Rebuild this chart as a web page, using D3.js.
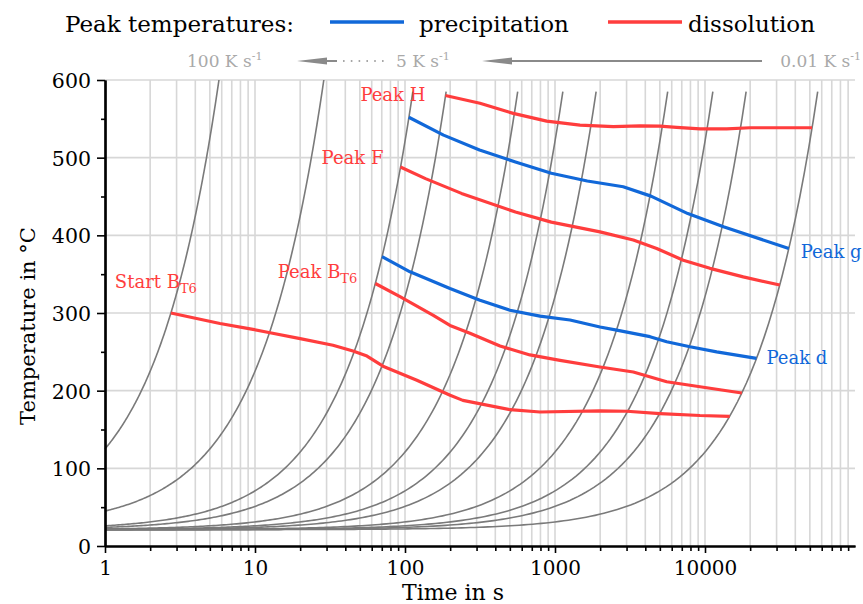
<!DOCTYPE html>
<html>
<head>
<meta charset="utf-8">
<script src="https://cdn.jsdelivr.net/npm/d3@7"></script>
<style>
  body { margin: 0; background: #fff; }
  svg { display: block; }
  text { font-family: "DejaVu Serif", serif; }
</style>
</head>
<body>
<svg id="chart" width="863" height="604"></svg>
<script>
// Constant-rate heating runs (K/s), their start temperature at t = 0 and final temperature (°C)
const heatingRates = [100, 20, 5, 3, 1, 0.5, 0.3, 0.1, 0.05, 0.03, 0.01];
const startTemps   = [25, 25, 21, 21, 21, 21, 21, 21, 21, 21, 21];
const endTemps     = [600, 600, 585, 585, 585, 585, 585, 585, 585, 585, 585];

// Axis ticks
const xTicks = [1, 10, 100, 1000, 10000];
const yTicks = [0, 100, 200, 300, 400, 500, 600];
const yMinorTicks = [50, 150, 250, 350, 450, 550];

// Peak temperature tracks: [time in s, temperature in °C]
const peakH = [[186, 580], [316, 570], [527, 557], [880, 547], [1468, 542], [2448, 540],
  [3690, 541], [5010, 540.5], [6470, 539], [9260, 537], [13950, 537], [19950, 538.5], [51700, 538.5]];
const peakF = [[93.2, 488], [137, 473], [238, 454], [545, 430], [945, 417], [1995, 404.5],
  [3327, 394], [4764, 383], [7166, 368], [10790, 357.5], [17990, 346.5], [31500, 336]];
const peakBT6 = [[63.4, 338], [92.6, 321], [154.5, 297], [199.5, 284], [271, 274], [430, 257.5],
  [681, 246], [1080, 239], [1995, 230.5], [3327, 224], [5555, 211.5], [9260, 205], [17600, 197]];
const startBT6 = [[2.75, 300], [5.84, 286.5], [9.7, 279], [12.6, 274.5], [20, 267], [33.1, 258.5],
  [45, 251], [55.8, 244.5], [71.3, 231.5], [120, 213.5], [200, 194], [243, 187.5], [501, 175.5],
  [794, 172.5], [1995, 174], [3020, 173.5], [5010, 170.5], [9260, 168], [14600, 167]];
const peakG = [[106, 552], [180.7, 529], [314, 510], [545, 494.5], [945, 480], [1641, 470],
  [2849, 462.5], [4365, 450.5], [7680, 428], [13280, 411], [36200, 383]];
const peakD = [[70.3, 372.5], [108, 353], [199.5, 331.5], [316, 316.5], [501, 303.5], [794, 296],
  [1259, 291], [1995, 282], [2578, 278], [4299, 269.5], [5555, 263], [7943, 256.5], [11960, 250],
  [22040, 241.5]];

const RED = "#ff3d3d", BLUE = "#1168d9", GRID = "#d7d7d7", CURVE = "#7a7a7a", NOTE = "#a9a9a9";

const svg = d3.select("#chart");
const x = d3.scaleLog().domain([1, 1e5]).range([105, 855]);
const y = d3.scaleLinear().domain([0, 600]).range([546, 80]);

// every 1..9 multiple of each decade, used for grid and minor ticks
const logTicks = [];
for (let e = 0; e < 5; e++) for (let m = 1; m <= 9; m++) logTicks.push(m * Math.pow(10, e));
const xMinorTicks = logTicks.filter(v => !xTicks.includes(v));

// grid
const grid = svg.append("g").attr("stroke", GRID).attr("stroke-width", 1.6);
grid.selectAll("line.v").data(logTicks.filter(v => v > 1)).join("line")
  .attr("x1", d => x(d)).attr("x2", d => x(d)).attr("y1", y(0)).attr("y2", y(600));
grid.selectAll("line.h").data(yTicks.filter(v => v > 0)).join("line")
  .attr("x1", x(1)).attr("x2", x(1e5)).attr("y1", d => y(d)).attr("y2", d => y(d));

// heating curves: linear in time, sampled densely so the log axis bends them
const curveLine = d3.line().x(d => x(d[0])).y(d => y(d[1]));
const runs = heatingRates.map((r, i) => {
  const tEnd = (endTemps[i] - startTemps[i]) / r;
  const n = 160;
  const lo = 0, hi = Math.log10(tEnd);
  return d3.range(n + 1).map(k => {
    const t = Math.pow(10, lo + (hi - lo) * k / n);
    return [t, startTemps[i] + r * t];
  });
});
svg.append("g").selectAll("path").data(runs).join("path")
  .attr("d", curveLine).attr("fill", "none").attr("stroke", CURVE).attr("stroke-width", 1.6);

// peak tracks
const tracks = [
  { pts: peakH, color: RED }, { pts: peakF, color: RED }, { pts: peakBT6, color: RED },
  { pts: startBT6, color: RED }, { pts: peakG, color: BLUE }, { pts: peakD, color: BLUE }
];
svg.append("g").selectAll("path").data(tracks).join("path")
  .attr("d", d => curveLine(d.pts)).attr("fill", "none")
  .attr("stroke", d => d.color).attr("stroke-width", 3.2)
  .attr("stroke-linejoin", "round").attr("stroke-linecap", "butt");

// axes
const xMinorAxis = svg.append("g").attr("transform", `translate(0,${y(0)})`)
  .call(d3.axisBottom(x).tickValues(xMinorTicks).tickSize(5).tickSizeOuter(0).tickFormat(""));
const xAxis = svg.append("g").attr("transform", `translate(0,${y(0)})`)
  .call(d3.axisBottom(x).tickValues(xTicks).tickSize(7).tickSizeOuter(0).tickFormat(d3.format("d")));
const yMinorAxis = svg.append("g").attr("transform", `translate(${x(1)},0)`)
  .call(d3.axisLeft(y).tickValues(yMinorTicks).tickSize(4).tickSizeOuter(0).tickFormat(""));
const yAxis = svg.append("g").attr("transform", `translate(${x(1)},0)`)
  .call(d3.axisLeft(y).tickValues(yTicks).tickSize(8).tickSizeOuter(0).tickPadding(6));

[xMinorAxis, xAxis, yMinorAxis, yAxis].forEach(g => {
  g.selectAll("path.domain").attr("stroke", "#000").attr("stroke-width", 2.2);
  g.selectAll(".tick line").attr("stroke", "#000").attr("stroke-width", 1.6);
});
xAxis.selectAll(".tick text").attr("y", 29).attr("dy", 0)
  .attr("font-size", 20).attr("font-family", "DejaVu Serif").attr("fill", "#000");
yAxis.selectAll(".tick text").attr("dy", "0.36em")
  .attr("font-size", 20.5).attr("font-family", "DejaVu Serif").attr("fill", "#000");

// axis titles
svg.append("text").attr("x", 453).attr("y", 599.5).attr("text-anchor", "middle")
  .attr("font-size", 22).text("Time in s");
svg.append("text").attr("transform", "translate(35,326) rotate(-90)").attr("text-anchor", "middle")
  .attr("font-size", 21).text("Temperature in °C");

// track labels, placed from the track end points
function label(pt, dx, dy, anchor, color, main, sub) {
  const t = svg.append("text").attr("x", x(pt[0]) + dx).attr("y", y(pt[1]) + dy)
    .attr("text-anchor", anchor).attr("fill", color).attr("font-size", 18).text(main);
  if (sub) t.append("tspan").attr("font-size", 13).attr("dy", 5).text(sub);
}
label(peakH[0], -20, 5, "end", RED, "Peak H");
label(peakF[0], -17, -3, "end", RED, "Peak F");
label(startBT6[0], 26, -25, "end", RED, "Start B", "T6");
label(peakBT6[0], -18, -5, "end", RED, "Peak B", "T6");
label(peakG[peakG.length - 1], 12, 9, "start", BLUE, "Peak g");
label(peakD[peakD.length - 1], 10, 6, "start", BLUE, "Peak d");

// legend
const legend = svg.append("g");
legend.append("text").attr("x", 65).attr("y", 32).attr("font-size", 23).text("Peak temperatures:");
legend.append("line").attr("x1", 330).attr("x2", 404).attr("y1", 22).attr("y2", 22)
  .attr("stroke", BLUE).attr("stroke-width", 3.5);
legend.append("text").attr("x", 419).attr("y", 32).attr("font-size", 23).text("precipitation");
legend.append("line").attr("x1", 608).attr("x2", 682).attr("y1", 22).attr("y2", 22)
  .attr("stroke", RED).attr("stroke-width", 3.5);
legend.append("text").attr("x", 688).attr("y", 32).attr("font-size", 23).text("dissolution");

// heating-rate direction note
const note = svg.append("g").attr("fill", NOTE).attr("font-size", 17);
function rateText(xPos, anchor, value) {
  const t = note.append("text").attr("x", xPos).attr("y", 67).attr("text-anchor", anchor)
    .text(value + " K s");
  t.append("tspan").attr("font-size", 11).attr("dy", -7).text("-1");
}
rateText(187, "start", "100");
rateText(396, "start", "5");
rateText(861, "end", "0.01");
const arrows = svg.append("g").attr("fill", "#8a8a8a").attr("stroke", "#8a8a8a");
arrows.append("path").attr("d", "M297,61 L327,57.5 L327,64.5 Z").attr("stroke", "none");
arrows.append("line").attr("x1", 326).attr("x2", 337).attr("y1", 61).attr("y2", 61).attr("stroke-width", 2);
arrows.append("line").attr("x1", 343).attr("x2", 389).attr("y1", 61).attr("y2", 61)
  .attr("stroke-width", 1.6).attr("stroke-dasharray", "1.6,6.2");
arrows.append("path").attr("d", "M482,61 L512,57.5 L512,64.5 Z").attr("stroke", "none");
arrows.append("line").attr("x1", 511).attr("x2", 762).attr("y1", 61).attr("y2", 61).attr("stroke-width", 2);
</script>
</body>
</html>
